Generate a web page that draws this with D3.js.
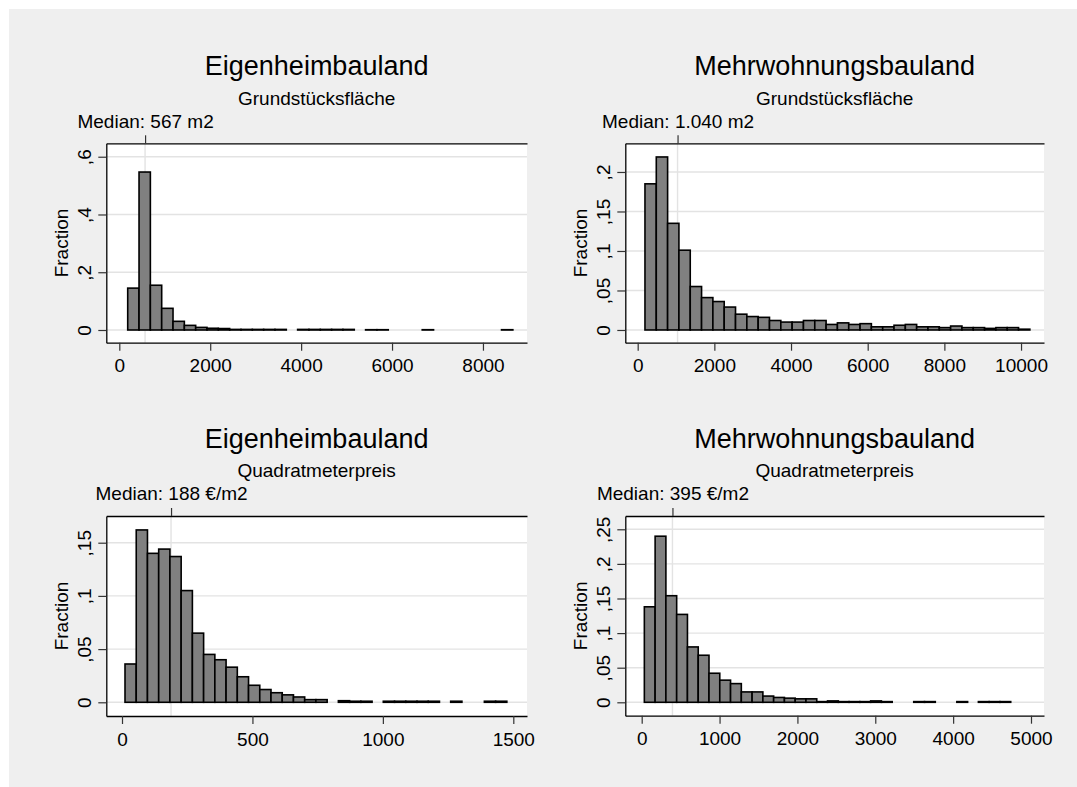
<!DOCTYPE html>
<html><head><meta charset="utf-8">
<script src="https://cdn.jsdelivr.net/npm/d3@7"></script>
<style>
html,body{margin:0;padding:0;background:#fff;}
svg text{font-family:"Liberation Sans",Arial,"DejaVu Sans",sans-serif;fill:#000;}
</style></head>
<body>
<svg id="chart" width="1077" height="787"></svg>
<script>
// ---------- data ----------
const titles = ["Eigenheimbauland", "Mehrwohnungsbauland", "Eigenheimbauland", "Mehrwohnungsbauland"];
const subtitles = ["Grundstücksfläche", "Grundstücksfläche", "Quadratmeterpreis", "Quadratmeterpreis"];
const medianValues = [567, 1040, 188, 395];
const medianLabels = ["Median: 567 m2", "Median: 1.040 m2", "Median: 188 €/m2", "Median: 395 €/m2"];
const binStarts = [185, 190, 11.5, 34];
const binWidths = [249.2, 295.3, 43.05, 138.4];

const eigenFlaeche = [0.145, 0.547, 0.155, 0.075, 0.030, 0.016, 0.009, 0.006, 0.005, 0.002, 0.002, 0.002, 0.002, 0.002, 0, 0.002, 0.002, 0.002, 0.002, 0.002, 0, 0.001, 0.001, 0, 0, 0, 0.001, 0, 0, 0, 0, 0, 0, 0.001];
const mehrFlaeche = [0.185, 0.219, 0.135, 0.101, 0.055, 0.041, 0.036, 0.029, 0.020, 0.017, 0.016, 0.012, 0.010, 0.010, 0.012, 0.012, 0.007, 0.009, 0.007, 0.008, 0.004, 0.004, 0.006, 0.007, 0.004, 0.004, 0.003, 0.005, 0.003, 0.003, 0.002, 0.003, 0.003, 0.001];
const eigenPreis = [0.036, 0.162, 0.140, 0.144, 0.137, 0.105, 0.065, 0.045, 0.040, 0.033, 0.024, 0.016, 0.012, 0.009, 0.007, 0.005, 0.0025, 0.0025, 0, 0.0015, 0.001, 0.001, 0, 0.001, 0.001, 0.001, 0.001, 0.001, 0, 0.001, 0, 0, 0.001, 0.001];
const mehrPreis = [0.138, 0.240, 0.154, 0.127, 0.080, 0.068, 0.042, 0.032, 0.027, 0.015, 0.015, 0.009, 0.007, 0.006, 0.005, 0.005, 0.001, 0.002, 0.001, 0.001, 0.001, 0.002, 0.001, 0, 0, 0.001, 0.001, 0, 0, 0.001, 0, 0.001, 0.001, 0.001];
const seriesValues = [eigenFlaeche, mehrFlaeche, eigenPreis, mehrPreis];

const xTicks = [[0, 2000, 4000, 6000, 8000], [0, 2000, 4000, 6000, 8000, 10000], [0, 500, 1000, 1500], [0, 1000, 2000, 3000, 4000, 5000]];
const yTicks = [[0, 0.2, 0.4, 0.6], [0, 0.05, 0.1, 0.15, 0.2], [0, 0.05, 0.1, 0.15], [0, 0.05, 0.1, 0.15, 0.2, 0.25]];
const yTickLabels = [["0", ",2", ",4", ",6"], ["0", ",05", ",1", ",15", ",2"], ["0", ",05", ",1", ",15"], ["0", ",05", ",1", ",15", ",2", ",25"]];

// ---------- layout ----------
const panels = [
  {left: 106.3, right: 527, top: 143.3, bottom: 342.7, xd: [-286, 8969], yd: [-0.044, 0.6465]},
  {left: 625.3, right: 1044, top: 143.3, bottom: 342.7, xd: [-323, 10599], yd: [-0.0161, 0.2363]},
  {left: 106.3, right: 527, top: 516, bottom: 716, xd: [-60.2, 1552.5], yd: [-0.01288, 0.1751]},
  {left: 625.3, right: 1044, top: 516, bottom: 715.7, xd: [-210.6, 5167], yd: [-0.01936, 0.2692]}
];

const svg = d3.select("#chart");
svg.append("rect").attr("x", 9).attr("y", 9).attr("width", 1068).attr("height", 778).attr("fill", "#efefef");

panels.forEach((p, i) => {
  const x = d3.scaleLinear().domain(p.xd).range([p.left, p.right]);
  const y = d3.scaleLinear().domain(p.yd).range([p.bottom, p.top]);
  const g = svg.append("g");
  const cx = (p.left + p.right) / 2;

  // plot region
  g.append("rect").attr("x", p.left).attr("y", p.top)
    .attr("width", p.right - p.left).attr("height", p.bottom - p.top).attr("fill", "#fff");

  // gridlines
  g.selectAll(".grid").data(yTicks[i]).join("line")
    .attr("x1", p.left).attr("x2", p.right)
    .attr("y1", d => y(d)).attr("y2", d => y(d))
    .attr("stroke", "#e3e3e3").attr("stroke-width", 1.4);

  // median line
  g.append("line").attr("x1", x(medianValues[i])).attr("x2", x(medianValues[i]))
    .attr("y1", p.top).attr("y2", p.bottom).attr("stroke", "#e3e3e3").attr("stroke-width", 1.4);

  // bars
  const bins = seriesValues[i].map((v, k) => ({x0: binStarts[i] + k * binWidths[i], x1: binStarts[i] + (k + 1) * binWidths[i], v}))
    .filter(d => d.v > 0);
  g.selectAll(".bar").data(bins).join("rect")
    .attr("x", d => x(d.x0)).attr("width", d => x(d.x1) - x(d.x0))
    .attr("y", d => y(d.v)).attr("height", d => y(0) - y(d.v))
    .attr("fill", "#808080").attr("stroke", "#000").attr("stroke-width", 1.6);

  // left axis
  const ya = g.append("g").attr("transform", `translate(${p.left},0)`)
    .call(d3.axisLeft(y).tickValues(yTicks[i]).tickSize(8).tickSizeOuter(0)
      .tickFormat((d, k) => yTickLabels[i][k]));
  ya.selectAll("text").attr("x", 0).attr("y", -15).attr("dy", null)
    .attr("text-anchor", "middle").attr("transform", "rotate(-90)")
    .style("font-size", "19px").style("font-family", null);
  ya.select(".domain").attr("stroke", "#000").attr("stroke-width", 1.3);
  ya.selectAll(".tick line").attr("stroke", "#333").attr("stroke-width", 1.2);

  // bottom axis
  const xa = g.append("g").attr("transform", `translate(0,${p.bottom})`)
    .call(d3.axisBottom(x).tickValues(xTicks[i]).tickSize(8).tickSizeOuter(0).tickFormat(d3.format("d")));
  xa.selectAll("text").attr("y", 29.7).attr("dy", null).style("font-size", "19px").style("font-family", null);
  xa.select(".domain").attr("stroke", "#000").attr("stroke-width", 1.3);
  xa.selectAll(".tick line").attr("stroke", "#333").attr("stroke-width", 1.2);

  // top axis with median
  const ta = g.append("g").attr("transform", `translate(0,${p.top})`)
    .call(d3.axisTop(x).tickValues([medianValues[i]]).tickSize(8).tickSizeOuter(0).tickFormat(() => medianLabels[i]));
  ta.selectAll("text").attr("y", -15.6).attr("dy", null).style("font-size", "19px").style("font-family", null);
  ta.select(".domain").attr("stroke", "#000").attr("stroke-width", 1.3);
  ta.selectAll(".tick line").attr("stroke", "#333").attr("stroke-width", 1.2);
  g.selectAll(".domain").attr("fill", "none");
  g.selectAll(".tick text").attr("fill", "#000");

  // y title
  g.append("text").attr("transform", `translate(${p.left - 38},${(p.top + p.bottom) / 2}) rotate(-90)`)
    .attr("text-anchor", "middle").style("font-size", "19px").text("Fraction");

  // titles
  g.append("text").attr("x", cx).attr("y", p.top - 68.3).attr("text-anchor", "middle")
    .style("font-size", "27px").text(titles[i]);
  g.append("text").attr("x", cx).attr("y", p.top - 38.8).attr("text-anchor", "middle")
    .style("font-size", "19px").text(subtitles[i]);
});
</script>
</body></html>
